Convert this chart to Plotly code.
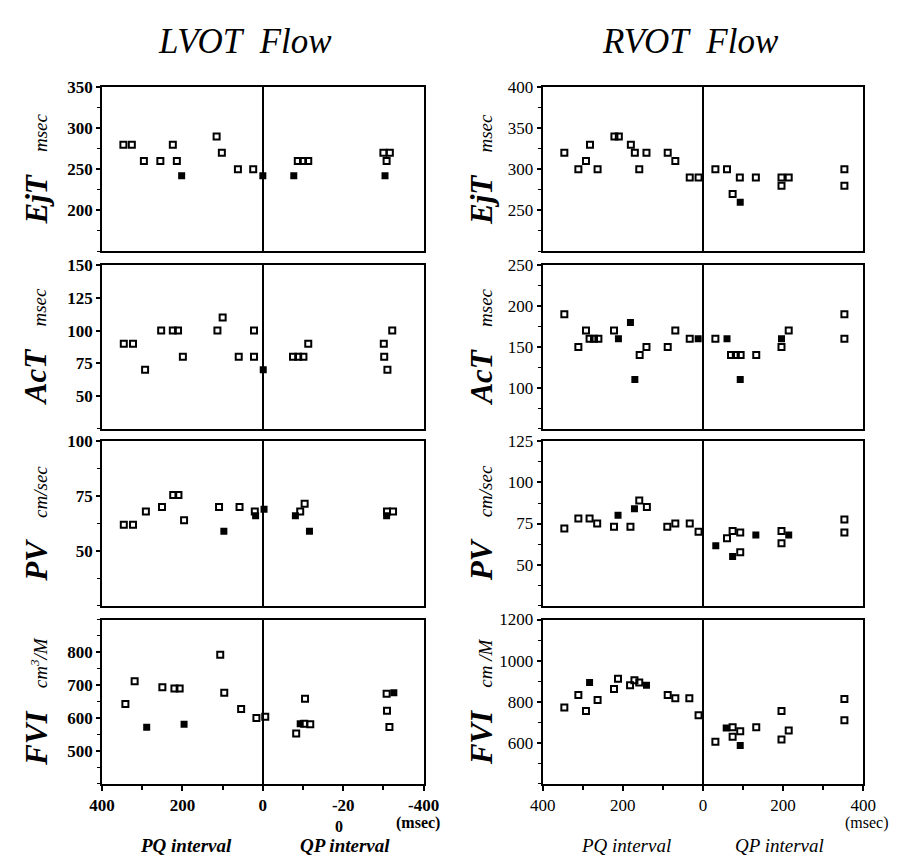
import plotly.graph_objects as go

# ---------------------------------------------------------------
# Data: x = interval in msec (PQ positive, QP plotted negative),
# y = measured value.  "solid" lists hold overlapping records.
# ---------------------------------------------------------------

# LVOT ejection time (msec)
lv_ejt_x = [347, 326, 296, 255, 224, 214, 115, 102, 62, 24, -87, -100, -113, -308, -300, -316]
lv_ejt_y = [280, 280, 260, 260, 280, 260, 290, 270, 250, 250, 260, 260, 260, 260, 270, 270]
lv_ejt_solid_x = [202, 0, -77, -304]
lv_ejt_solid_y = [242, 242, 242, 242]

# LVOT acceleration time (msec)
lv_act_x = [346, 323, 293, 253, 224, 211, 199, 113, 100, 60, 22, 22, -75, -88, -101, -113, -301, -302, -310, -322]
lv_act_y = [90, 90, 70, 100, 100, 100, 80, 100, 110, 80, 100, 80, 80, 80, 80, 90, 90, 80, 70, 100]
lv_act_solid_x = [-1]
lv_act_solid_y = [70]

# LVOT peak velocity (cm/sec)
lv_pv_x = [346, 323, 291, 251, 223, 210, 196, 109, 58, 20, -93, -104, -309, -324]
lv_pv_y = [62, 62, 68, 70, 75.5, 75.5, 64, 70, 70, 68, 68, 71.5, 68, 68]
lv_pv_solid_x = [97, 18, -3, -81, -116, -308]
lv_pv_solid_y = [59, 66, 69, 66, 59, 66]

# LVOT flow velocity integral (cm^3/M)
lv_fvi_x = [342, 319, 250, 220, 207, 106, 96, 54, 16, -6, -83, -103, -105, -118, -308, -309, -315]
lv_fvi_y = [643, 712, 694, 690, 690, 793, 677, 628, 600, 604, 553, 583, 659, 581, 674, 622, 573]
lv_fvi_solid_x = [289, 196, -93, -326]
lv_fvi_solid_y = [572, 581, 583, 677]

# RVOT ejection time (msec)
rv_ejt_x = [346, 311, 292, 282, 263, 221, 210, 180, 170, 159, 141, 88, 69, 33, 11,
            -31, -60, -74, -92, -132, -196, -196, -214, -353, -353]
rv_ejt_y = [320, 300, 310, 330, 300, 340, 340, 330, 320, 300, 320, 320, 310, 290, 290,
            300, 300, 270, 290, 290, 280, 290, 290, 300, 280]
rv_ejt_solid_x = [-93]
rv_ejt_solid_y = [260]

# RVOT acceleration time (msec)
rv_act_x = [346, 311, 292, 283, 272, 261, 222, 158, 141, 88, 69, 33,
            -31, -70, -82, -94, -133, -196, -214, -353, -353]
rv_act_y = [190, 150, 170, 160, 160, 160, 170, 140, 150, 150, 170, 160,
            160, 140, 140, 140, 140, 150, 170, 190, 160]
rv_act_solid_x = [211, 181, 170, 12, -60, -93, -196]
rv_act_solid_y = [160, 180, 110, 160, 160, 110, 160]

# RVOT peak velocity (cm/sec)
rv_pv_x = [346, 311, 283, 264, 222, 181, 159, 140, 89, 69, 33, 11,
           -60, -74, -93, -93, -196, -196, -353, -353]
rv_pv_y = [72, 78, 78, 75, 73, 73, 89, 85, 73, 75, 75, 70,
           66, 70.5, 69.5, 57.5, 70.5, 63, 77.5, 69.5]
rv_pv_solid_x = [212, 171, -32, -74, -132, -214]
rv_pv_solid_y = [80, 84, 61.5, 55, 68, 68]

# RVOT flow velocity integral (cm^3/M)
rv_fvi_x = [346, 311, 292, 263, 222, 212, 182, 171, 159, 88, 69, 34, 11,
            -31, -74, -74, -93, -133, -196, -196, -214, -353, -353]
rv_fvi_y = [771, 832, 755, 808, 861, 912, 880, 904, 893, 832, 816, 816, 734,
            605, 675, 629, 656, 675, 755, 616, 659, 813, 709]
rv_fvi_solid_x = [283, 141, -58, -93]
rv_fvi_solid_y = [893, 880, 672, 587]

# Axis settings for each panel
lv_ranges = [[150, 350], [25, 150], [25, 100], [400, 900]]
lv_ticks = [[200, 250, 300, 350], [50, 75, 100, 125, 150], [50, 75, 100], [500, 600, 700, 800]]
lv_minor = [25, 25, 12.5, 50]
rv_ranges = [[200, 400], [50, 250], [25, 125], [400, 1200]]
rv_ticks = [[250, 300, 350, 400], [100, 150, 200, 250], [50, 75, 100, 125], [600, 800, 1000, 1200]]
rv_minor = [25, 25, 12.5, 100]

x_tickvals = [400, 200, 0, -200, -400]
lv_x_ticktext = ["400", "200", "0", "-20", "-400"]
rv_x_ticktext = ["400", "200", "0", "200", "400"]

lv_names = ["EjT", "AcT", "PV", "FVI"]
lv_units = ["msec", "msec", "cm/sec", "cm<sup>3</sup>/M"]
rv_units = ["msec", "msec", "cm/sec", "cm /M"]

W, H = 917, 857
SERIF = "Liberation Serif, Times New Roman, serif"

# panel boxes in pixels
col_x = [(92, 424), (547, 878)]
row_y = [(79, 245), (259, 424), (437, 603), (617, 783)]

lv_data = [
    (lv_ejt_x, lv_ejt_y, lv_ejt_solid_x, lv_ejt_solid_y),
    (lv_act_x, lv_act_y, lv_act_solid_x, lv_act_solid_y),
    (lv_pv_x, lv_pv_y, lv_pv_solid_x, lv_pv_solid_y),
    (lv_fvi_x, lv_fvi_y, lv_fvi_solid_x, lv_fvi_solid_y),
]
rv_data = [
    (rv_ejt_x, rv_ejt_y, rv_ejt_solid_x, rv_ejt_solid_y),
    (rv_act_x, rv_act_y, rv_act_solid_x, rv_act_solid_y),
    (rv_pv_x, rv_pv_y, rv_pv_solid_x, rv_pv_solid_y),
    (rv_fvi_x, rv_fvi_y, rv_fvi_solid_x, rv_fvi_solid_y),
]

fig = go.Figure()
layout = {}
annotations = []

bold_font = dict(family=SERIF, size=17, color="black", weight="bold")
plain_font = dict(family=SERIF, size=17, color="black")

idx = 0
for c, (data, ranges, ticks, minors, units, tickfont, xticktext) in enumerate([
    (lv_data, lv_ranges, lv_ticks, lv_minor, lv_units, bold_font, lv_x_ticktext),
    (rv_data, rv_ranges, rv_ticks, rv_minor, rv_units, plain_font, rv_x_ticktext),
]):
    x0, x1 = col_x[c]
    for r in range(4):
        idx += 1
        sfx = "" if idx == 1 else str(idx)
        y0, y1 = row_y[r]
        xs, ys, sx, sy = data[r]
        fig.add_trace(go.Scatter(
            x=xs, y=ys, mode="markers", xaxis="x" + sfx, yaxis="y" + sfx,
            marker=dict(symbol="square-open", size=6, color="black",
                        line=dict(width=2, color="black")),
            showlegend=False, hoverinfo="x+y"))
        fig.add_trace(go.Scatter(
            x=sx, y=sy, mode="markers", xaxis="x" + sfx, yaxis="y" + sfx,
            marker=dict(symbol="square", size=7, color="black",
                        line=dict(width=0)),
            showlegend=False, hoverinfo="x+y"))
        bottom = (r == 3)
        xaxis = dict(
            domain=[x0 / W, x1 / W], anchor="y" + sfx,
            range=[400, -400], showgrid=False,
            zeroline=True, zerolinecolor="black", zerolinewidth=1.6,
            showline=True, mirror=True, linecolor="black", linewidth=2,
            showticklabels=bottom, fixedrange=True)
        if bottom:
            xaxis.update(
                tickmode="array", tickvals=x_tickvals, ticktext=xticktext,
                ticks="outside", ticklen=5, tickwidth=1.5, tickcolor="black",
                minor=dict(dtick=100, ticks="outside", ticklen=4,
                           tickwidth=1.5, tickcolor="black"),
                tickfont=tickfont)
        else:
            xaxis.update(ticks="")
        layout["xaxis" + sfx] = xaxis
        layout["yaxis" + sfx] = dict(
            domain=[1 - y1 / H, 1 - y0 / H], anchor="x" + sfx,
            range=ranges[r], showgrid=False, zeroline=False,
            showline=True, mirror=True, linecolor="black", linewidth=2,
            tickmode="array", tickvals=ticks[r],
            ticks="outside", ticklen=4, tickwidth=1.5, tickcolor="black",
            minor=dict(dtick=minors[r], ticks="outside", ticklen=3,
                       tickwidth=1.2, tickcolor="black"),
            tickfont=tickfont, fixedrange=True)

        # rotated panel label: quantity + unit
        annotations.append(dict(
            text=("<b><i>%s</i></b>&nbsp;&nbsp;&nbsp;<i><span style='font-size:19px'>%s</span></i>"
                  % (lv_names[r], units[r])),
            xref="paper", yref="paper", textangle=-90,
            x=(24 if c == 0 else 484) / W, y=1 - (y0 + y1) / 2 / H,
            xanchor="center", yanchor="middle", showarrow=False,
            font=dict(family=SERIF, size=31, color="black")))

# second line of the bottom axis labels
small_bold = dict(family=SERIF, size=16, color="black", weight="bold")
small_plain = dict(family=SERIF, size=16, color="black")
for label, xc, yc, font in [("0", 337, 826, small_bold), ("(msec)", 418, 823, small_bold),
                            ("(msec)", 882, 823, small_plain)]:
    annotations.append(dict(
        text=label, xref="paper", yref="paper", x=xc / W, y=1 - yc / H,
        xanchor="center", yanchor="middle", showarrow=False, font=font))

# column headings
for label, xc in [("LVOT&nbsp;&nbsp;Flow", 240), ("RVOT&nbsp;&nbsp;Flow", 700)]:
    annotations.append(dict(
        text="<i>%s</i>" % label, xref="paper", yref="paper",
        x=xc / W, y=1 - 33 / H, xanchor="center", yanchor="middle",
        showarrow=False, font=dict(family=SERIF, size=35, color="black")))

# interval captions below bottom panels
for label, xc, bold in [("PQ interval", 179, True), ("QP interval", 343, True),
                        ("PQ interval", 633, False), ("QP interval", 792, False)]:
    txt = "<i>%s</i>" % label
    if bold:
        txt = "<b>%s</b>" % txt
    annotations.append(dict(
        text=txt, xref="paper", yref="paper",
        x=xc / W, y=1 - 845 / H, xanchor="center", yanchor="middle",
        showarrow=False, font=dict(family=SERIF, size=19, color="black")))

fig.update_layout(
    width=W, height=H, margin=dict(l=0, r=0, t=0, b=0),
    paper_bgcolor="white", plot_bgcolor="white",
    annotations=annotations, **layout)

fig.write_html("out.html")
